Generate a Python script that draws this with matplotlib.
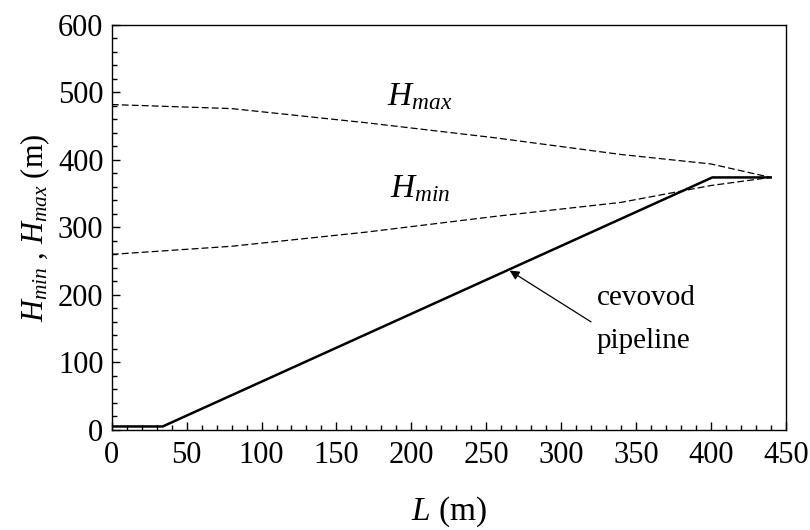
import matplotlib
matplotlib.use("Agg")
from matplotlib import pyplot as plt
from matplotlib.ticker import MultipleLocator

# serif font like Times
plt.rcParams['font.family'] = 'Liberation Serif'
plt.rcParams['mathtext.fontset'] = 'custom'
plt.rcParams['mathtext.rm'] = 'Liberation Serif'
plt.rcParams['mathtext.it'] = 'Liberation Serif:italic'

# data
pipe_L = [0, 34, 401, 440]
pipe_H = [5, 5, 374, 374]

hmax_L = [0, 80, 170, 255, 340, 400, 440]
hmax_H = [482, 476, 455, 433, 408, 394, 374]

hmin_L = [0, 80, 170, 255, 340, 400, 440]
hmin_H = [260, 272, 293, 316, 337, 362, 374]

fig = plt.figure(figsize=(8.1, 5.3), dpi=100)
ax = fig.add_axes([0.138, 0.189, 0.832, 0.764])

ax.plot(pipe_L, pipe_H, color="black", lw=1.8)
ax.plot(hmax_L, hmax_H, color="black", lw=0.9, dashes=(5.5, 2.5))
ax.plot(hmin_L, hmin_H, color="black", lw=0.9, dashes=(5.5, 2.5))

ax.set_xlim(0, 450)
ax.set_ylim(0, 600)
ax.xaxis.set_major_locator(MultipleLocator(50))
ax.xaxis.set_minor_locator(MultipleLocator(10))
ax.yaxis.set_major_locator(MultipleLocator(100))
ax.yaxis.set_minor_locator(MultipleLocator(20))
ax.tick_params(which="both", direction="in", top=False, right=False, width=1)
ax.tick_params(which="major", length=6, labelsize=22)
ax.tick_params(axis="x", which="major", pad=8)
ax.tick_params(axis="y", which="major", pad=6)
ax.tick_params(which="minor", length=3.5)
for s in ax.spines.values():
    s.set_linewidth(1)

ax.set_xlabel("$L$ (m)", fontsize=24, labelpad=18)
ax.set_ylabel("$H_{min}$ , $H_{max}$ (m)", fontsize=22, labelpad=4)

ax.text(184, 481, "$H_{max}$", fontsize=24, ha="left", va="baseline")
ax.text(186, 344, "$H_{min}$", fontsize=24, ha="left", va="baseline")
ax.text(324, 185, "cevovod", fontsize=21, ha="left", va="baseline")
ax.text(324, 121, "pipeline", fontsize=21, ha="left", va="baseline")
ax.annotate("", xy=(265.7, 236), xytext=(320, 160),
            arrowprops=dict(arrowstyle="-|>", color="black", lw=0.9,
                            mutation_scale=14, shrinkA=0, shrinkB=0))

fig.savefig("out.png", dpi=100)
